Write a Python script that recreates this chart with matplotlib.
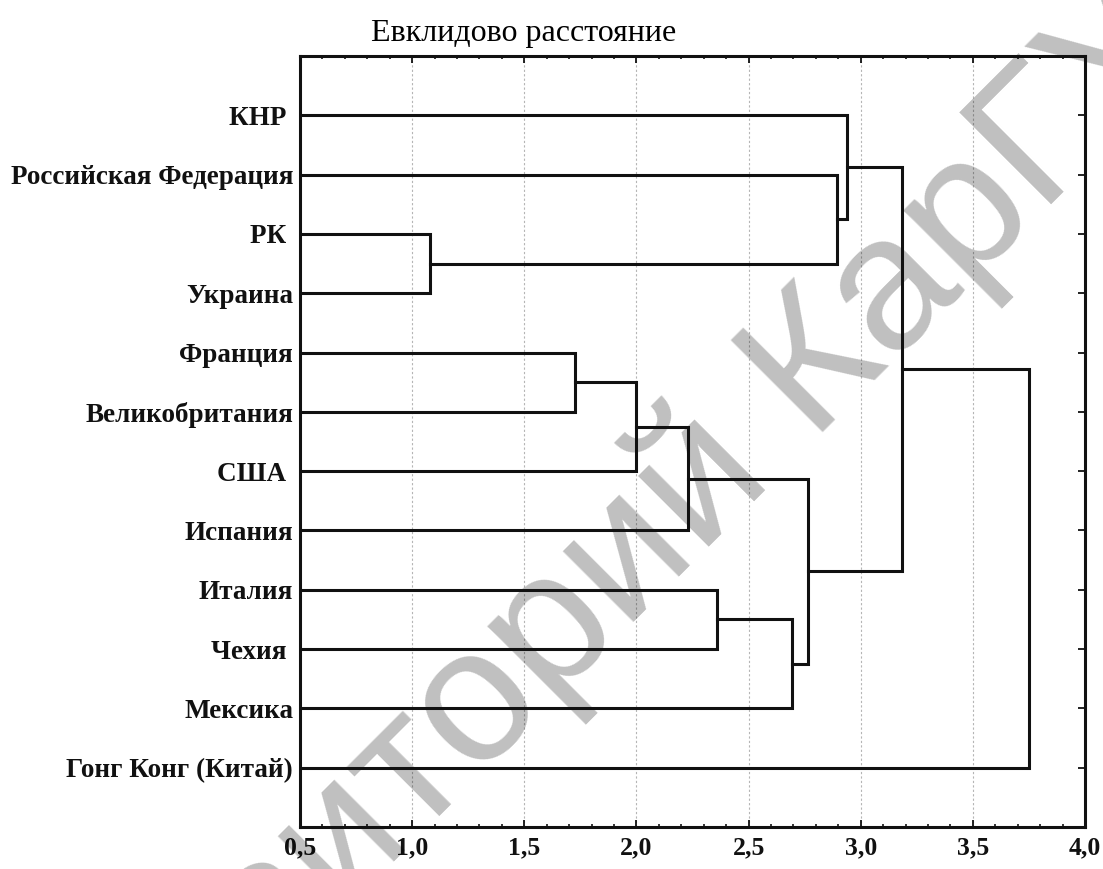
"""Дендрограмма: евклидово расстояние между странами"""
import matplotlib; matplotlib.use('Agg')
import matplotlib.pyplot as plt
from matplotlib.ticker import MultipleLocator, FuncFormatter

plt.rcParams['font.family'] = ['Liberation Serif', 'DejaVu Serif']

# листья дендрограммы (сверху вниз)
leaves = ['КНР ', 'Российская Федерация', 'РК ', 'Украина', 'Франция', 'Великобритания',
          'США ', 'Испания', 'Италия', 'Чехия ', 'Мексика', 'Гонг Конг (Китай)']
# объединения по порядку: узел a, узел b, расстояние; номер нового узла = 12 + порядковый номер
merge_a = [2, 4, 13, 14, 8, 16, 15, 1, 0, 20, 21]
merge_b = [3, 5, 6, 7, 9, 10, 17, 12, 19, 18, 11]
merge_h = [1.08, 1.725, 2.00, 2.23, 2.36, 2.695, 2.765, 2.895, 2.94, 3.185, 3.75]

x_ticks = [0.5, 1.0, 1.5, 2.0, 2.5, 3.0, 3.5, 4.0]

fig = plt.figure(figsize=(11.03, 8.69), dpi=100)
ax = fig.add_axes([300/1103, 1 - 827/869, 785/1103, 771/869])

node_x = {i: 0.0 for i in range(len(leaves))}
node_y = {i: i + 1.0 for i in range(len(leaves))}
for k, (a, b, h) in enumerate(zip(merge_a, merge_b, merge_h)):
    ax.plot([node_x[a], h, h, node_x[b]], [node_y[a], node_y[a], node_y[b], node_y[b]],
            color='#111111', lw=2.2, solid_joinstyle='miter', zorder=3)
    nid = len(leaves) + k
    node_x[nid] = h
    node_y[nid] = (node_y[a] + node_y[b]) / 2

ax.set_xlim(x_ticks[0], x_ticks[-1])
ax.set_ylim(len(leaves) + 1, 0)
ax.set_xticks(x_ticks)
ax.xaxis.set_minor_locator(MultipleLocator(0.1))
ax.xaxis.set_major_formatter(FuncFormatter(lambda v, p: f'{v:.1f}'.replace('.', ',')))
ax.set_yticks(range(1, len(leaves) + 1))
ax.set_yticklabels(leaves)
for lab in ax.get_xticklabels() + ax.get_yticklabels():
    lab.set_fontweight('bold')
ax.tick_params(axis='x', which='major', direction='in', top=True, bottom=True,
               length=5, width=1.3, labelsize=18.5, pad=7, colors='#111111')
ax.tick_params(axis='x', which='minor', direction='in', top=True, bottom=True,
               length=2.5, width=1.1)
ax.tick_params(axis='y', direction='in', left=True, right=True, length=5, width=1.3,
               labelsize=19.5, pad=5, colors='#111111')
for s in ax.spines.values():
    s.set_linewidth(2.2); s.set_color('#111111')
ax.set_axisbelow(True)
ax.grid(axis='x', which='major', color='#b5b5b5', linestyle=(0, (2, 2)), linewidth=0.8)

fig.text(0.475, 0.962, 'Евклидово расстояние', ha='center', va='center', fontsize=23)

# водяной знак
ax.text(-0.0245, -0.476, 'Репозиторий КарГУ', transform=fig.transFigure, rotation=45,
        rotation_mode='anchor', ha='left', va='baseline', fontsize=137,
        family='Liberation Sans', color='black', alpha=0.25, zorder=1.5, clip_on=False)

fig.savefig('out.png', dpi=100, facecolor='white')
